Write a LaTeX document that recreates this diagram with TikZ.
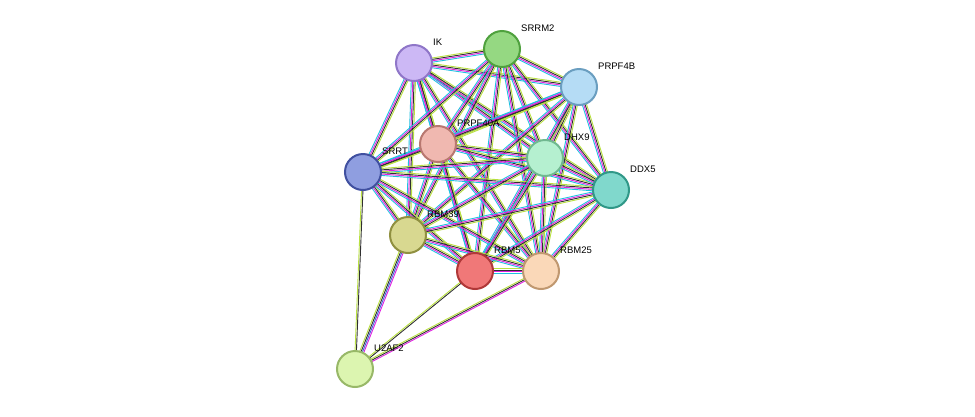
\documentclass[tikz,border=0pt]{standalone}
\usepackage{fontspec}
\setmainfont{Liberation Sans}
\usetikzlibrary{calc}
\definecolor{ecy}{HTML}{20C0E0}
\definecolor{emg}{HTML}{E020E0}
\definecolor{ebk}{HTML}{303030}
\definecolor{eyg}{HTML}{B8E040}
\definecolor{ebl}{HTML}{4060E0}
\newcommand{\pe}[4]{\draw[#3,line width=0.9pt] ($(#1)!#4!90:(#2)$) -- ($(#2)!#4!-90:(#1)$);}
\newcommand{\fulledge}[2]{\pe{#1}{#2}{ecy}{-2.1pt}\pe{#1}{#2}{emg}{-0.7pt}\pe{#1}{#2}{ebk}{0.7pt}\pe{#1}{#2}{eyg}{2.1pt}}
\tikzset{prot/.style={circle,minimum size=36pt,inner sep=0pt,line width=2pt},
lab/.style={anchor=west,font=\fontsize{9.5}{11}\selectfont,inner sep=0pt}}
\begin{document}
\begin{tikzpicture}[x=1pt,y=-1pt]
\useasboundingbox (0,0) rectangle (975,416);
\coordinate (IK) at (414,63);
\coordinate (SRRM2) at (502,49);
\coordinate (PRPF4B) at (579,87);
\coordinate (PRPF40A) at (438,144);
\coordinate (SRRT) at (363,172);
\coordinate (DHX9) at (545,158);
\coordinate (DDX5) at (611,190);
\coordinate (RBM39) at (408,235);
\coordinate (RBM5) at (475,271);
\coordinate (RBM25) at (541,271);
\coordinate (U2AF2) at (355,369);
\foreach \a/\i in {IK/1,SRRM2/2,PRPF4B/3,PRPF40A/4,SRRT/5,DHX9/6,DDX5/7,RBM39/8,RBM5/9,RBM25/10}{
 \foreach \b/\j in {IK/1,SRRM2/2,PRPF4B/3,PRPF40A/4,SRRT/5,DHX9/6,DDX5/7,RBM39/8,RBM5/9,RBM25/10}{
  \ifnum\i<\j \fulledge{\a}{\b}\fi }}
\pe{U2AF2}{SRRT}{ebk}{-0.7pt}\pe{U2AF2}{SRRT}{eyg}{0.7pt}
\pe{U2AF2}{RBM39}{emg}{-2.1pt}\pe{U2AF2}{RBM39}{ebl}{-0.7pt}\pe{U2AF2}{RBM39}{ebk}{0.7pt}\pe{U2AF2}{RBM39}{eyg}{2.1pt}
\pe{U2AF2}{RBM25}{emg}{-1.4pt}\pe{U2AF2}{RBM25}{ebk}{0pt}\pe{U2AF2}{RBM25}{eyg}{1.4pt}
\pe{U2AF2}{RBM5}{ebk}{-0.7pt}\pe{U2AF2}{RBM5}{eyg}{0.7pt}
\foreach \n/\f/\d in {IK/CCB8F5/8F76C8,SRRM2/95D882/4FA13E,PRPF4B/B5DCF5/6A9EC0,PRPF40A/F0B8B0/B87870,SRRT/8F9EE0/4050A0,DHX9/B5F0D0/70B890,DDX5/80D8CC/309888,RBM39/D8D890/909040,RBM5/F07878/B03838,RBM25/FAD8B8/C09870,U2AF2/DCF5B0/98B868}{
 \definecolor{nf}{HTML}{\f}\definecolor{nd}{HTML}{\d}
 \node[prot,fill=nf,draw=nd] (n\n) at (\n) {};
 \node[lab] (l\n) at ($(\n)+(19,-21)$) {\n};
}
\end{tikzpicture}
\end{document}
